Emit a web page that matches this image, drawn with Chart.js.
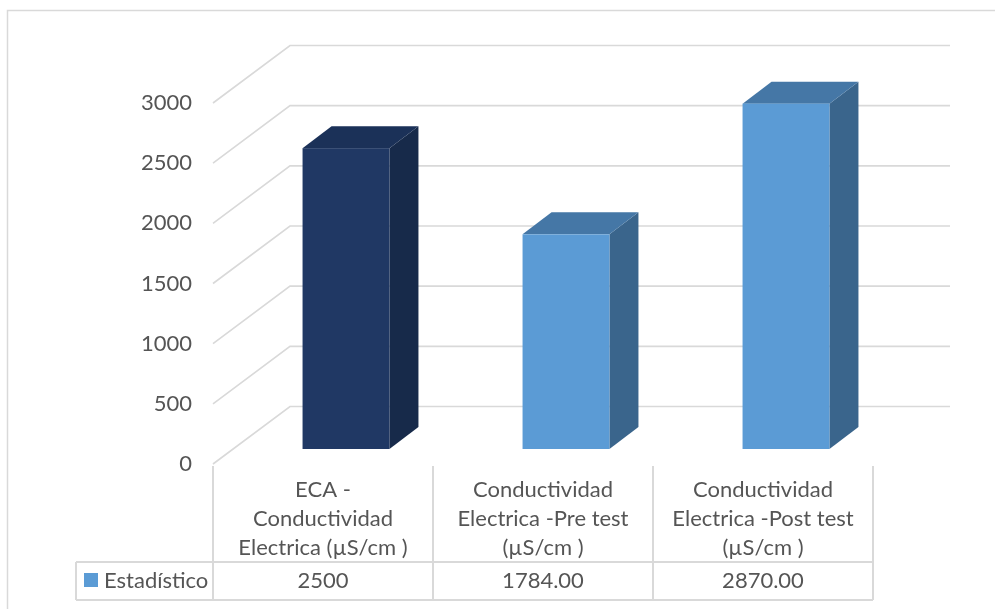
<!DOCTYPE html>
<html>
<head>
<meta charset="utf-8">
<script src="https://cdn.jsdelivr.net/npm/chart.js@4.4.1/dist/chart.umd.min.js"></script>
<style>
  body { margin: 0; background: #ffffff; }
  #wrap { width: 995px; height: 609px; }
</style>
</head>
<body>
<div id="wrap"><canvas id="chart" width="995" height="609"></canvas></div>
<script>
// datos del grafico
var categories = [
    ['ECA -', 'Conductividad', 'Electrica (µS/cm )'],
    ['Conductividad', 'Electrica -Pre test', '(µS/cm )'],
    ['Conductividad', 'Electrica -Post test', '(µS/cm )']
];
var values = [2500, 1784, 2870];
var tableValues = ['2500', '1784.00', '2870.00'];
var seriesName = 'Estadístico';
var yMin = 0, yMax = 3000, yStep = 500;

// colores (cara frontal, lateral, superior)
var frontColors = ['#203864', '#5b9bd5', '#5b9bd5'];
var sideColors  = ['#172a4a', '#3a658c', '#3a658c'];
var topColors   = ['#1b3158', '#4577a6', '#4577a6'];

var FONT = 'Lato, "DejaVu Sans", sans-serif';
var TEXT = '#555555';
var LINE = '#d9d9d9';

var WALL = { dx: 77, dy: -57.5 };   // profundidad de la pared
var BAR_OFF = { dx: 23, dy: -15 };  // posicion de la barra dentro del piso
var BAR_D = { dx: 29, dy: -22 };    // profundidad de la barra

// 1. rejilla 3D (diagonales + pared del fondo)
var gridPlugin = {
    id: 'grid3d',
    beforeDatasetsDraw: function(chart) {
        var ctx = chart.ctx;
        var a = chart.chartArea;
        var y = chart.scales.y;
        ctx.save();
        ctx.strokeStyle = LINE;
        ctx.lineWidth = 1.6;
        for (var i = 0; i < y.ticks.length; i++) {
            var py = y.getPixelForValue(y.ticks[i].value);
            ctx.beginPath();
            ctx.moveTo(a.left, py);
            ctx.lineTo(a.left + WALL.dx, py + WALL.dy);
            ctx.lineTo(a.right + WALL.dx, py + WALL.dy);
            ctx.stroke();
        }
        ctx.restore();
    }
};

// 2. barras 3D a partir de los elementos de Chart.js
var barsPlugin = {
    id: 'bars3d',
    afterDatasetsDraw: function(chart) {
        var ctx = chart.ctx;
        var meta = chart.getDatasetMeta(0);
        ctx.save();
        for (var i = 0; i < meta.data.length; i++) {
            var el = meta.data[i];
            var x0 = el.x - el.width / 2 + BAR_OFF.dx;
            var x1 = el.x + el.width / 2 + BAR_OFF.dx;
            var yt = el.y + BAR_OFF.dy;
            var yb = el.base + BAR_OFF.dy;

            // lateral
            ctx.fillStyle = sideColors[i];
            ctx.beginPath();
            ctx.moveTo(x1, yt);
            ctx.lineTo(x1 + BAR_D.dx, yt + BAR_D.dy);
            ctx.lineTo(x1 + BAR_D.dx, yb + BAR_D.dy);
            ctx.lineTo(x1, yb);
            ctx.closePath();
            ctx.fill();

            // superior
            ctx.fillStyle = topColors[i];
            ctx.beginPath();
            ctx.moveTo(x0, yt);
            ctx.lineTo(x0 + BAR_D.dx, yt + BAR_D.dy);
            ctx.lineTo(x1 + BAR_D.dx, yt + BAR_D.dy);
            ctx.lineTo(x1, yt);
            ctx.closePath();
            ctx.fill();

            // frontal
            ctx.fillStyle = frontColors[i];
            ctx.fillRect(x0, yt, x1 - x0, yb - yt);
        }
        ctx.restore();
    }
};

// 3. tabla de datos debajo del grafico + borde exterior
var tablePlugin = {
    id: 'dataTable',
    afterDraw: function(chart) {
        var ctx = chart.ctx;
        var a = chart.chartArea;
        var x = chart.scales.x;
        var colW = (a.right - a.left) / categories.length;
        var rowTop = a.bottom + 2;
        var rowMid = 562;
        var rowBot = 600;
        var legendLeft = 76;

        ctx.save();
        // borde exterior
        ctx.strokeStyle = LINE;
        ctx.lineWidth = 1.5;
        ctx.strokeRect(7.5, 10.5, 1100, 700);

        // lineas de la tabla
        ctx.lineWidth = 2;
        ctx.beginPath();
        for (var c = 0; c <= categories.length; c++) {
            var cx = a.left + c * colW;
            ctx.moveTo(cx, rowTop);
            ctx.lineTo(cx, rowBot);
        }
        ctx.moveTo(legendLeft, rowMid);
        ctx.lineTo(a.right, rowMid);
        ctx.moveTo(legendLeft, rowBot);
        ctx.lineTo(a.right, rowBot);
        ctx.moveTo(legendLeft, rowMid);
        ctx.lineTo(legendLeft, rowBot);
        ctx.stroke();

        // textos
        ctx.fillStyle = TEXT;
        ctx.font = '22px ' + FONT;
        ctx.textAlign = 'center';
        ctx.textBaseline = 'middle';
        for (var i = 0; i < categories.length; i++) {
            var mx = x.getPixelForValue(i);
            for (var l = 0; l < categories[i].length; l++) {
                ctx.fillText(categories[i][l], mx, 490 + l * 29);
            }
            ctx.fillText(tableValues[i], mx, 581);
        }

        // leyenda
        ctx.fillStyle = frontColors[1];
        ctx.fillRect(84, 573, 14, 14);
        ctx.fillStyle = TEXT;
        ctx.textAlign = 'left';
        ctx.fillText(seriesName, 104, 581);
        ctx.restore();
    }
};

new Chart(document.getElementById('chart').getContext('2d'), {
    type: 'bar',
    data: {
        labels: categories,
        datasets: [{
            label: seriesName,
            data: values,
            backgroundColor: 'rgba(0,0,0,0)',
            borderWidth: 0,
            barPercentage: 0.395,
            categoryPercentage: 1
        }]
    },
    options: {
        responsive: false,
        animation: false,
        layout: { padding: { left: 0, right: 122, top: 103, bottom: 145 } },
        scales: {
            x: { display: false },
            y: {
                min: yMin, max: yMax,
                grid: { display: false },
                border: { display: false },
                ticks: {
                    stepSize: yStep,
                    color: TEXT,
                    padding: 13,
                    font: { family: FONT, size: 22 },
                    callback: function(v) { return String(v); }
                },
                afterFit: function(scale) {
                    scale.width = 213;
                    scale.paddingTop = 0;
                    scale.paddingBottom = 0;
                }
            }
        },
        plugins: { legend: { display: false }, tooltip: { enabled: false } }
    },
    plugins: [gridPlugin, barsPlugin, tablePlugin]
});
</script>
</body>
</html>
